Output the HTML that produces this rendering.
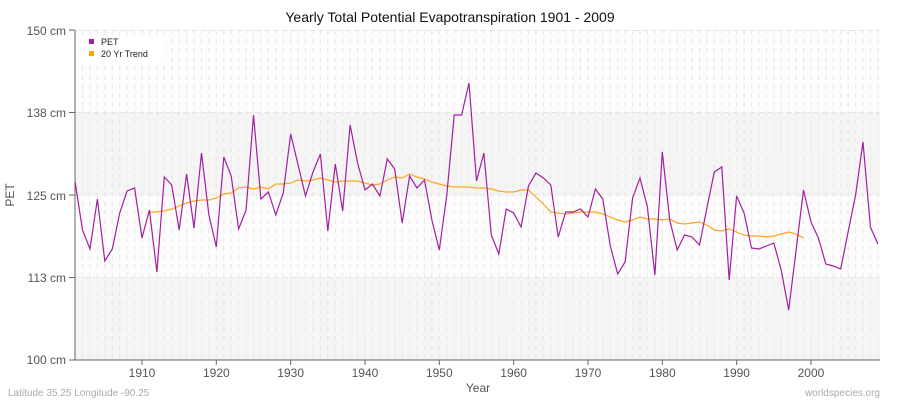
<!DOCTYPE html>
<html><head><meta charset="utf-8"><style>
body{margin:0;background:#fff;font-family:"Liberation Sans",sans-serif}
</style></head><body>
<svg width="900" height="400" xmlns="http://www.w3.org/2000/svg" font-family="Liberation Sans, sans-serif">
<rect width="900" height="400" fill="#fff"/>
<rect x="75" y="30" width="805" height="82.5" fill="#fdfdfd"/>
<rect x="75" y="112.5" width="805" height="82.5" fill="#f5f5f5"/>
<rect x="75" y="195" width="805" height="82.5" fill="#fcfcfc"/>
<rect x="75" y="277.5" width="805" height="82.5" fill="#f5f5f5"/>
<g id="vg" stroke="#e8e8e8" stroke-dasharray="5,4" stroke-width="1"></g>
<g stroke="#e6e6e6" stroke-dasharray="6,3"><line x1="75" x2="880" y1="112.5" y2="112.5"/><line x1="75" x2="880" y1="195" y2="195"/><line x1="75" x2="880" y1="277.5" y2="277.5"/><line x1="75" x2="880" y1="30.5" y2="30.5"/></g>
<line x1="75" y1="30" x2="75" y2="360" stroke="#666"/>
<line x1="75" y1="360" x2="880" y2="360" stroke="#666"/>
<g stroke="#666"><line x1="69" x2="75" y1="30" y2="30"/><line x1="69" x2="75" y1="112.5" y2="112.5"/><line x1="69" x2="75" y1="195" y2="195"/><line x1="69" x2="75" y1="277.5" y2="277.5"/><line x1="69" x2="75" y1="360" y2="360"/></g>
<g font-size="12" fill="#555" text-anchor="end"><text x="66" y="35">150 cm</text><text x="66" y="117">138 cm</text><text x="66" y="200">125 cm</text><text x="66" y="282">113 cm</text><text x="66" y="364">100 cm</text></g>
<g id="xt" font-size="12" fill="#555" text-anchor="middle"></g>
<text x="450" y="22" font-size="14" text-anchor="middle" fill="#111">Yearly Total Potential Evapotranspiration 1901 - 2009</text>
<text x="478" y="392" font-size="12" text-anchor="middle" fill="#555">Year</text>
<text x="14" y="195" font-size="12" text-anchor="middle" fill="#555" transform="rotate(-90 14 195)">PET</text>
<text x="8" y="396" font-size="10" fill="#aaa">Latitude 35.25 Longitude -90.25</text>
<text x="880" y="396" font-size="10" fill="#aaa" text-anchor="end">worldspecies.org</text>
<rect x="80" y="35" width="85" height="28" fill="#fff" opacity="0.9"/>
<rect x="89" y="39" width="5" height="5" fill="#a020a0"/><text x="101" y="45" font-size="9" fill="#222">PET</text>
<rect x="89" y="51" width="5" height="5" fill="#ffa500"/><text x="101" y="57" font-size="9" fill="#222">20 Yr Trend</text>
<polyline id="trend" fill="none" stroke="#ffa520" stroke-width="1.2"/>
<polyline id="pet" fill="none" stroke="#a020a0" stroke-width="1.2"/>
</svg>
<script>
var p=[182,230,249,199,261,249,213,191,188,238,210,272,177,185,230,174,228,153,215,247,157,176,229,210,115,199,192,215,193,134,165,196,172,154,231,164,211,125,163,190,184,196,159,169,223,176,188,180,220,250,195,115,115,83,181,153,235,254,209,213,227,186,173,178,185,237,212,212,209,217,189,199,246,274,262,198,178,207,275,152,220,250,235,237,245,208,172,167,280,196,213,248,249,246,243,270,310,250,190,222,238,264,266,269,232,195,142,227,244];
var t=[212,212,211,209,206,203,201,200,200,198,194,193,188,187,189,187,189,184,184,183,180,181,180,178,180,182,181,181,181,183,185,184,180,177,178,174,177,179,182,184,186,187,187,187,188,188,189,191,192,192,190,190,197,204,212,213,214,213,212,212,212,214,217,220,222,220,217,219,219,220,219,223,224,223,222,225,230,231,229,232,235,236,236,237,236,234,232,234,238];
function X(y){return 75.1+(y-1901)*7.433;}
document.getElementById('pet').setAttribute('points',p.map(function(v,i){return X(1901+i).toFixed(1)+','+v}).join(' '));
document.getElementById('trend').setAttribute('points',t.map(function(v,i){return X(1911+i).toFixed(1)+','+v}).join(' '));
var vg=document.getElementById('vg'),xt=document.getElementById('xt'),ns='http://www.w3.org/2000/svg';
for(var y=1902;y<=2009;y++){var l=document.createElementNS(ns,'line');var x=X(y).toFixed(1);l.setAttribute('x1',x);l.setAttribute('x2',x);l.setAttribute('y1',30);l.setAttribute('y2',360);vg.appendChild(l);}
for(var y=1910;y<=2000;y+=10){var s=document.createElementNS(ns,'text');s.setAttribute('x',X(y));s.setAttribute('y',377);s.textContent=y;xt.appendChild(s);
var k=document.createElementNS(ns,'line');k.setAttribute('x1',X(y));k.setAttribute('x2',X(y));k.setAttribute('y1',360);k.setAttribute('y2',365);k.setAttribute('stroke','#666');vg.parentNode.appendChild(k);}
</script>
</body></html>
